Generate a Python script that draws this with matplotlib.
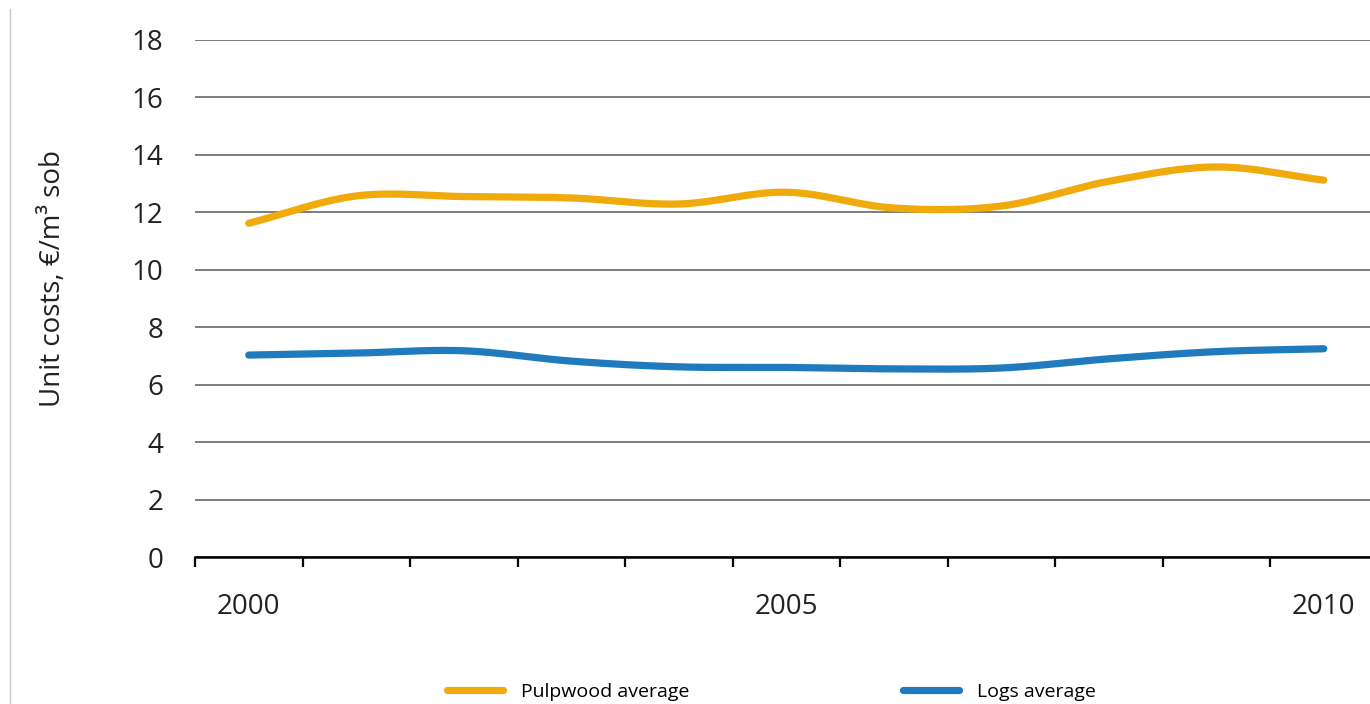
import numpy as np
import matplotlib
matplotlib.use("Agg")
import matplotlib.pyplot as plt
from matplotlib.lines import Line2D

plt.rcParams['font.family'] = ['Open Sans', 'DejaVu Sans']

years = [2000, 2001, 2002, 2003, 2004, 2005, 2006, 2007, 2008, 2009, 2010]
pulpwood = [11.62, 12.57, 12.55, 12.50, 12.29, 12.70, 12.15, 12.22, 13.08, 13.58, 13.12]
logs = [7.03, 7.10, 7.18, 6.82, 6.62, 6.60, 6.55, 6.58, 6.90, 7.15, 7.25]
series_names = ["Pulpwood average", "Logs average"]
series_colors = ["#F0AA0C", "#1F7BBE"]
x_labels = ["2000", "", "", "", "", "2005", "", "", "", "", "2010"]
y_ticks = [0, 2, 4, 6, 8, 10, 12, 14, 16, 18]


def smooth(x, y, n=30):
    # Catmull-Rom spline through the points (Excel-style smoothed line)
    x = np.asarray(x, float)
    y = np.asarray(y, float)
    px = np.concatenate([[2 * x[0] - x[1]], x, [2 * x[-1] - x[-2]]])
    py = np.concatenate([[2 * y[0] - y[1]], y, [2 * y[-1] - y[-2]]])
    xs, ys = [], []
    t = np.linspace(0, 1, n, endpoint=False)
    for i in range(1, len(px) - 2):
        for arr, out in ((px, xs), (py, ys)):
            p0, p1, p2, p3 = arr[i - 1], arr[i], arr[i + 1], arr[i + 2]
            v = 0.5 * ((2 * p1) + (-p0 + p2) * t + (2 * p0 - 5 * p1 + 4 * p2 - p3) * t ** 2
                       + (-p0 + 3 * p1 - 3 * p2 + p3) * t ** 3)
            out.extend(v)
    xs.append(x[-1])
    ys.append(y[-1])
    return np.array(xs), np.array(ys)


fig = plt.figure(figsize=(13.7, 7.04), dpi=100)
ax = fig.add_axes([195 / 1370, 147 / 704, 1182.5 / 1370, 517 / 704])

xpos = np.arange(len(years))
for vals, name, col in zip([pulpwood, logs], series_names, series_colors):
    sx, sy = smooth(xpos, vals)
    ax.plot(sx, sy, color=col, lw=5.2, solid_capstyle='round', label=name, zorder=3)

ax.set_xlim(-0.5, len(years) - 0.5)
ax.set_ylim(0, 18)
ax.set_yticks(y_ticks)
ax.set_yticklabels([str(v) for v in y_ticks], fontsize=20, color="#222222")
ax.yaxis.grid(True, color="#5a5a5a", lw=1.1)
ax.set_axisbelow(True)

ax.set_xticks(xpos)
ax.set_xticklabels(x_labels, fontsize=20, color="#222222")
ax.set_xticks(np.arange(len(years)) - 0.5, minor=True)
ax.tick_params(axis='x', which='major', length=0, pad=26)
ax.tick_params(axis='x', which='minor', length=7, width=1.6, color='black', direction='out')
ax.tick_params(axis='y', length=0, pad=23)

for s in ['top', 'right', 'left']:
    ax.spines[s].set_visible(False)
ax.spines['bottom'].set_linewidth(1.8)
ax.spines['bottom'].set_color('black')

ax.set_ylabel("Unit costs, €/m³ sob", fontsize=20, color="#222222")
ax.yaxis.set_label_coords(-0.108, 0.538)

fig.legend(loc='center', bbox_to_anchor=(0.563, 0.017), ncol=2, frameon=False,
           fontsize=14, handlelength=2.9, handletextpad=0.9, columnspacing=11.0)

fig.add_artist(Line2D([10 / 1370, 10 / 1370], [0, 695 / 704], color="#c8c8c8", lw=1))

fig.savefig("out.png", dpi=100, facecolor="white")
